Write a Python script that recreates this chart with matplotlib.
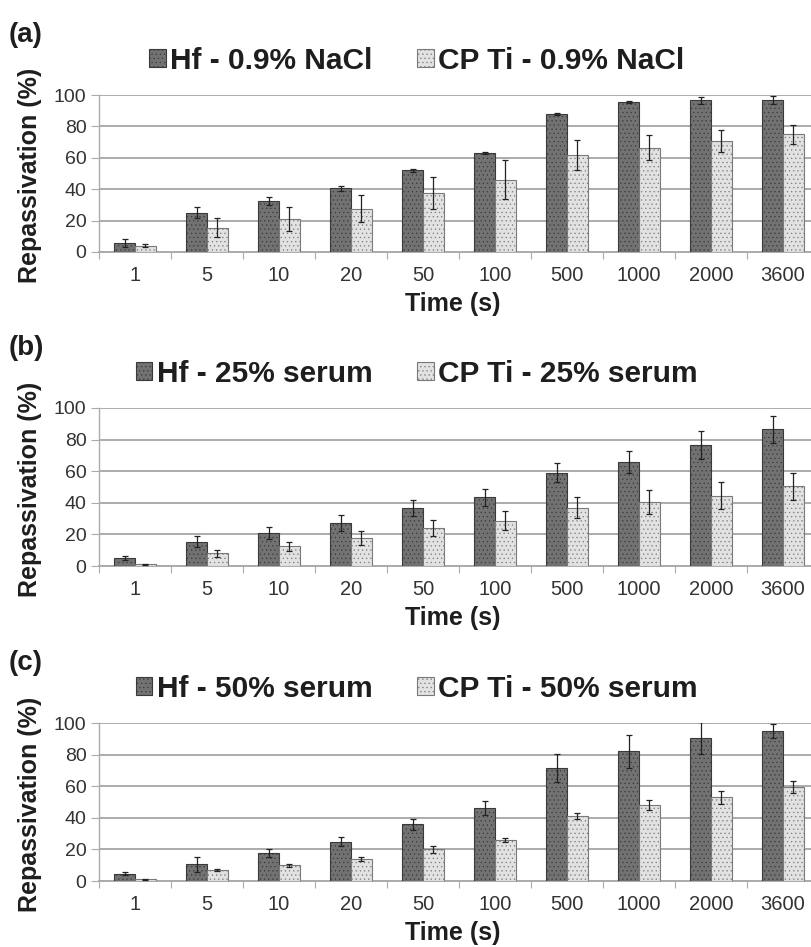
import numpy as np
import matplotlib
matplotlib.use('Agg')
import matplotlib.pyplot as plt

# data
times = ['1', '5', '10', '20', '50', '100', '500', '1000', '2000', '3600']

hf_nacl = [6, 25, 32.5, 40.5, 52, 63, 88, 95.5, 96.5, 97]
hf_nacl_err = [2.5, 3.5, 2.5, 1.5, 0.8, 0.8, 0.8, 0.5, 2, 2.5]
ti_nacl = [4, 15.5, 21, 27.5, 37.5, 46, 62, 66.5, 71, 75]
ti_nacl_err = [1, 6, 7.5, 8.5, 10, 12.5, 9.5, 8, 7, 6]

hf_s25 = [5, 15.5, 21, 27, 36.5, 43.5, 59, 66, 76.5, 86.5]
hf_s25_err = [1.5, 3.5, 4, 5, 5, 5.5, 6, 7, 9, 8.5]
ti_s25 = [1, 8, 12.5, 17.5, 24, 28.5, 37, 40.5, 44.5, 50.5]
ti_s25_err = [0.3, 2, 3, 4.5, 5, 6, 6.5, 7.5, 8.5, 8.5]

hf_s50 = [4.5, 10.5, 18, 25, 36, 46, 71.5, 82, 90.5, 95]
hf_s50_err = [1, 4.5, 2.5, 3, 3.5, 4.5, 9, 10.5, 10, 4.5]
ti_s50 = [1, 7, 10, 14, 20, 26, 41, 48, 53, 59.5]
ti_s50_err = [0.3, 0.8, 1, 1.5, 2, 1.5, 2, 3, 4, 3.5]

font = ['Liberation Sans', 'Arimo', 'DejaVu Sans']
plt.rcParams['font.family'] = font
plt.rcParams['hatch.linewidth'] = 0.4

W, H = 812, 947
fig = plt.figure(figsize=(W/100, H/100), dpi=100)

panels = [
    ('(a)', hf_nacl, hf_nacl_err, ti_nacl, ti_nacl_err, 'Hf - 0.9% NaCl', 'CP Ti - 0.9% NaCl', 95, 252),
    ('(b)', hf_s25, hf_s25_err, ti_s25, ti_s25_err, 'Hf - 25% serum', 'CP Ti - 25% serum', 408, 566),
    ('(c)', hf_s50, hf_s50_err, ti_s50, ti_s50_err, 'Hf - 50% serum', 'CP Ti - 50% serum', 723, 881),
]

x = np.arange(len(times))
bw = 0.29
txtc = '#1e1e1e'
for tag, hf, hfe, ti, tie, lab1, lab2, ytop, ybot in panels:
    # axes placed in pixels: y=100 at ytop, y=0 at ybot, right side cut by the figure edge
    left = 99
    width = 720
    ax = fig.add_axes([left/W, 1 - ybot/H, width/W, (ybot - ytop)/H])
    ax.set_xlim(-0.5, 9.5)
    ax.set_ylim(0, 100)
    b1 = ax.bar(x - bw/2, hf, bw, color='#727272', edgecolor='#3a3a3a', linewidth=0.8,
                hatch='....', label=lab1, zorder=3)
    b2 = ax.bar(x + bw/2, ti, bw, color='#e2e2e2', edgecolor='#7a7a7a', linewidth=0.8,
                hatch='....', label=lab2, zorder=3)
    ax.errorbar(x - bw/2, hf, yerr=hfe, fmt='none', ecolor='#222222', elinewidth=0.9,
                capsize=2.5, capthick=0.9, zorder=4)
    ax.errorbar(x + bw/2, ti, yerr=tie, fmt='none', ecolor='#222222', elinewidth=0.9,
                capsize=2.5, capthick=0.9, zorder=4)
    ax.set_yticks(np.arange(0, 101, 20))
    ax.yaxis.grid(True, color='#ababab', linewidth=1.4, zorder=0)
    ax.set_axisbelow(True)
    for s in ['top', 'right']:
        ax.spines[s].set_visible(False)
    ax.spines['left'].set_color('#ababab')
    ax.spines['bottom'].set_color('#ababab')
    ax.spines['left'].set_linewidth(1.0)
    ax.spines['bottom'].set_linewidth(1.4)
    ax.set_xticks(np.arange(-0.5, 10, 1))
    ax.set_xticklabels([])
    ax.set_xticks(x, minor=True)
    ax.set_xticklabels(times, minor=True, fontsize=14.5, color='#333333')
    ax.tick_params(axis='x', which='major', length=5, color='#ababab', direction='out')
    ax.tick_params(axis='x', which='minor', length=0, pad=10)
    ax.tick_params(axis='y', length=6, color='#ababab', labelsize=14, labelcolor='#333333', pad=3)
    fig.text(453/W, 1 - (ybot + 52)/H, 'Time (s)', ha='center', va='center',
             fontsize=18, fontweight='bold', color=txtc)
    fig.text(30/W, 1 - ((ytop + ybot)/2 + 2)/H, 'Repassivation (%)', rotation=90, ha='center',
             va='center', fontsize=18, fontweight='bold', color=txtc)
    fig.text(9/W, 1 - (ytop - 60)/H, tag, fontsize=20, fontweight='bold',
             ha='left', va='center', color=txtc)
    leg = fig.legend(handles=[b1, b2], loc='center', bbox_to_anchor=(417/W, 1 - (ytop - 34)/H),
                     ncol=2, frameon=False, handlelength=0.55, handleheight=0.55,
                     handletextpad=0.15, columnspacing=1.5, borderpad=0, borderaxespad=0,
                     prop={'weight': 'bold', 'size': 21.5})
    for t in leg.get_texts():
        t.set_color(txtc)

fig.savefig('out.png', dpi=100)
